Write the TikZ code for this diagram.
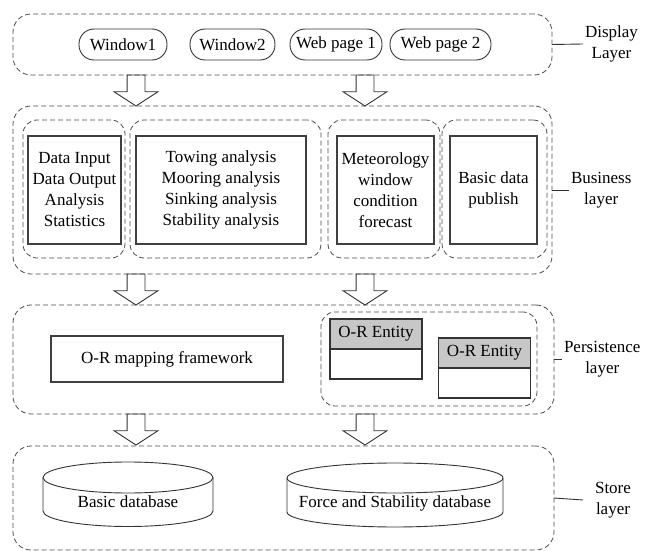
\documentclass[tikz,border=0pt]{standalone}
\usepackage{fontspec}
\setmainfont{Liberation Serif}
\usetikzlibrary{shapes.arrows, positioning}

\begin{document}
\begin{tikzpicture}[
    x=1pt, y=-1pt,
    font=\fontsize{17}{21}\selectfont,
    every node/.style={align=center, inner sep=0pt, outer sep=0pt},
    layer/.style={draw=black!70, line width=0.8pt, dash pattern=on 5pt off 3pt, rounded corners=18pt},
    group/.style={draw=black!70, line width=0.8pt, dash pattern=on 5pt off 3pt, rounded corners=14pt},
    box/.style={draw=black!75, line width=1.2pt},
    pill/.style={draw=black!80, line width=0.9pt, rounded corners=15pt, minimum height=31pt},
    head/.style={draw=black!80, line width=1.2pt, fill=black!22, minimum width=92pt, minimum height=30pt},
    body/.style={draw=black!80, line width=1.2pt, minimum width=92pt, minimum height=30pt},
    blockarrow/.style={draw=black!80, line width=0.9pt, single arrow, rotate=-90, anchor=tail,
        inner xsep=0pt, inner ysep=8.5pt, minimum height=31pt,
        single arrow head extend=13pt, single arrow tip angle=114},
    dbline/.style={draw=black!80, line width=0.9pt},
    lab/.style={anchor=west, inner xsep=2pt},
    link/.style={draw=black!80, line width=0.9pt}
]
\useasboundingbox (0,0) rectangle (649,551);

% Display layer
\node[layer, minimum width=539pt, minimum height=61pt] (display) at (282.5,44.5) {};
\node[pill, minimum width=88pt] (win1) at (123,44.5) {Window1};
\node[pill, minimum width=85pt] (win2) at (232.5,44.5) {Window2};
\node[pill, minimum width=92pt] (web1) at (336,44.5) {Web page 1};
\node[pill, minimum width=101pt] (web2) at (440.5,44.5) {Web page 2};
\node[lab] (displab) at (583,44) {Display\\Layer};
\draw[link] (display.east) -- (displab.west);

% Business layer
\node[layer, minimum width=539pt, minimum height=168pt] (business) at (282.5,190) {};
\node[group, minimum width=102pt, minimum height=138pt] (grp1) at (74,189) {};
\node[group, minimum width=191pt, minimum height=138pt] (grp2) at (225.5,189) {};
\node[group, minimum width=112pt, minimum height=138pt] (grp3) at (384,189) {};
\node[group, minimum width=105pt, minimum height=138pt] (grp4) at (494.5,189) {};
\node[box, minimum width=93pt, minimum height=108pt] (data) at (74.5,190) {Data Input\\Data Output\\Analysis\\Statistics};
\node[box, minimum width=170pt, minimum height=108pt] (analysis) at (221,190) {Towing analysis\\Mooring analysis\\Sinking analysis\\Stability analysis};
\node[box, minimum width=97pt, minimum height=108pt] (meteo) at (385.5,190) {Meteorology\\window\\condition\\forecast};
\node[box, minimum width=87pt, minimum height=108pt] (publish) at (493.5,190) {Basic data\\publish};
\node[lab] (buslab) at (569,190) {Business\\layer};
\draw[link] (business.east) -- (buslab.west);

% Persistence layer
\node[layer, minimum width=541pt, minimum height=109pt] (persist) at (283.5,359.5) {};
\node[box, minimum width=232pt, minimum height=46pt] (mapping) at (167,359) {O-R mapping framework};
\node[group, minimum width=216pt, minimum height=94pt] (entities) at (429,359) {};
\node[head] (ent1) at (376,334) {O-R Entity};
\node[body, below=0pt of ent1] (ent1b) {};
\node[head] (ent2) at (484.5,353) {O-R Entity};
\node[body, below=0pt of ent2] (ent2b) {};
\node[lab] (perlab) at (562,359.5) {Persistence\\layer};
\draw[link] (persist.east) -- (perlab.west);

% Store layer
\node[layer, minimum width=541pt, minimum height=104pt] (store) at (283.5,498) {};
\node (basicdb) at (128,502) {Basic database};
\draw[dbline] (43,477.5) -- (43,511) arc[start angle=180, end angle=360, x radius=85pt, y radius=15.5pt] -- (213,477.5);
\draw[dbline] (128,477.5) ellipse[x radius=85pt, y radius=15.5pt];
\node (forcedb) at (395,503) {Force and Stability database};
\draw[dbline] (287,478) -- (287,512) arc[start angle=180, end angle=360, x radius=108pt, y radius=15pt] -- (503,478);
\draw[dbline] (395,478) ellipse[x radius=108pt, y radius=15pt];
\node[lab, text width=56pt] (storelab) at (583,500) {Store\\layer};
\draw[link] (store.east) -- (storelab.west);

% Block arrows between layers
\node[blockarrow] (arr1) at (136,0 |- display.south) {};
\node[blockarrow] (arr2) at (365,0 |- display.south) {};
\node[blockarrow] (arr3) at (136,0 |- business.south) {};
\node[blockarrow] (arr4) at (365,0 |- business.south) {};
\node[blockarrow] (arr5) at (136,0 |- persist.south) {};
\node[blockarrow] (arr6) at (365,0 |- persist.south) {};
\end{tikzpicture}
\end{document}
